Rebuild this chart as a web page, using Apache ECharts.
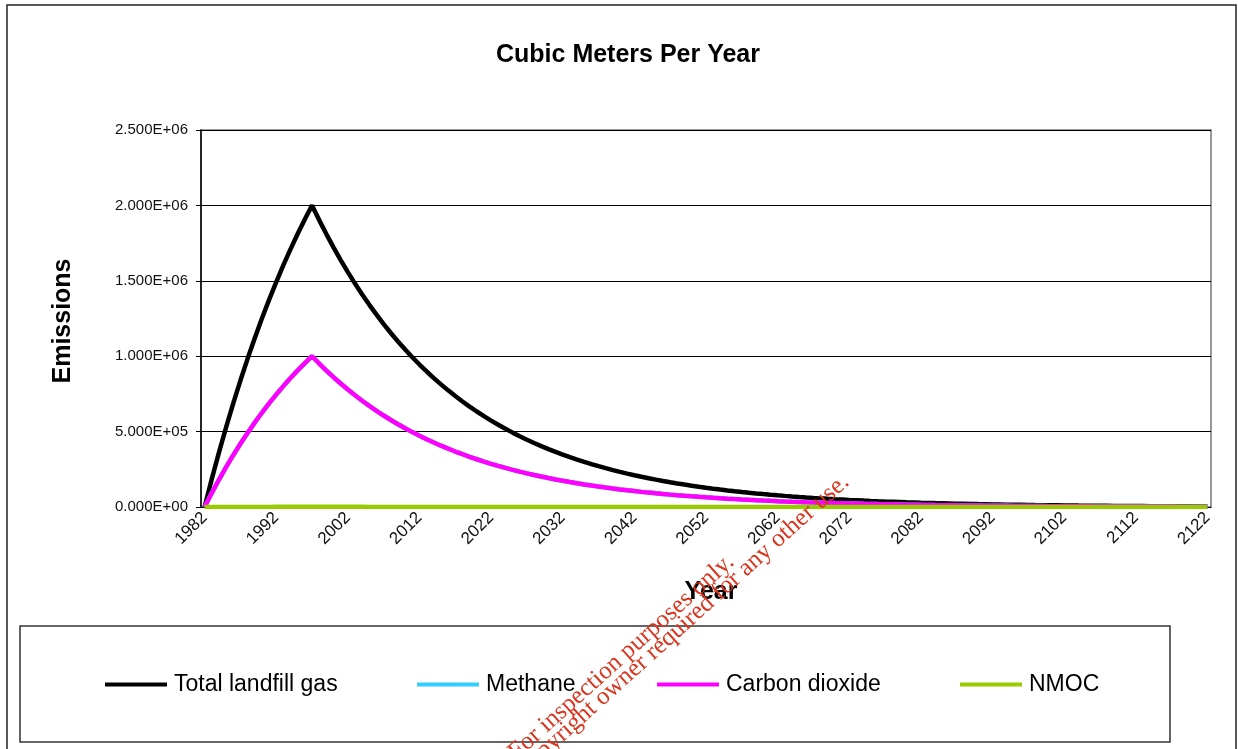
<!DOCTYPE html>
<html>
<head>
<meta charset="utf-8">
<script src="https://cdn.jsdelivr.net/npm/echarts@6/dist/echarts.min.js"></script>
<style>
html,body{margin:0;padding:0;background:#fff;}
#chart{width:1238px;height:749px;}
</style>
</head>
<body>
<div id="chart"></div>
<script>
const years = [
1982,1983,1984,1985,1986,1987,1988,1989,1990,1991,
1992,1993,1994,1995,1996,1997,1998,1999,2000,2001,
2002,2003,2004,2005,2006,2007,2008,2009,2010,2011,
2012,2013,2014,2015,2016,2017,2018,2019,2020,2021,
2022,2023,2024,2025,2026,2027,2028,2029,2030,2031,
2032,2033,2034,2035,2036,2037,2038,2039,2040,2041,
2042,2043,2044,2045,2046,2047,2048,2049,2050,2051,
2052,2053,2054,2055,2056,2057,2058,2059,2060,2061,
2062,2063,2064,2065,2066,2067,2068,2069,2070,2071,
2072,2073,2074,2075,2076,2077,2078,2079,2080,2081,
2082,2083,2084,2085,2086,2087,2088,2089,2090,2091,
2092,2093,2094,2095,2096,2097,2098,2099,2100,2101,
2102,2103,2104,2105,2106,2107,2108,2109,2110,2111,
2112,2113,2114,2115,2116,2117,2118,2119,2120,2121,
2122];

const totalLandfillGas = [
0,184900,360700,528000,687100,838500,982400,1119400,1249600,1373600,
1491500,1603600,1710200,1811700,1908200,2000000,
1902500,1809700,1721400,1637500,1557600,1481600,1409400,1340600,1275300,1213100,
1153900,1097600,1044100,993200,944700,898700,854800,813100,773500,735800,
699900,665700,633300,602400,573000,545100,518500,493200,469100,446300,
424500,403800,384100,365400,347600,330600,314500,299200,284600,270700,
257500,244900,233000,221600,210800,200500,190800,181400,172600,164200,
156200,148600,141300,134400,127900,121600,115700,110100,104700,99600,
94700,90100,85700,81500,77600,73800,70200,66800,63500,60400,
57500,54700,52000,49500,47000,44800,42600,40500,38500,36600,
34900,33200,31500,30000,28500,27200,25800,24600,23400,22200,
21200,20100,19100,18200,17300,16500,15700,14900,14200,13500,
12800,12200,11600,11100,10500,10000,9500,9100,8600,8200,
7800,7400,7100,6700,6400,6100,5800,5500,5200,5000,
4700,4500,4300,4100,3900];

const methane = [
0,92450,180350,264000,343550,419250,491200,559700,624800,686800,
745750,801800,855100,905850,954100,1000000,
951250,904850,860700,818750,778800,740800,704700,670300,637650,606550,
576950,548800,522050,496600,472350,449350,427400,406550,386750,367900,
349950,332850,316650,301200,286500,272550,259250,246600,234550,223150,
212250,201900,192050,182700,173800,165300,157250,149600,142300,135350,
128750,122450,116500,110800,105400,100250,95400,90700,86300,82100,
78100,74300,70650,67200,63950,60800,57850,55050,52350,49800,
47350,45050,42850,40750,38800,36900,35100,33400,31750,30200,
28750,27350,26000,24750,23500,22400,21300,20250,19250,18300,
17450,16600,15750,15000,14250,13600,12900,12300,11700,11100,
10600,10050,9550,9100,8650,8250,7850,7450,7100,6750,
6400,6100,5800,5550,5250,5000,4750,4550,4300,4100,
3900,3700,3550,3350,3200,3050,2900,2750,2600,2500,
2350,2250,2150,2050,1950];

const carbonDioxide = [
0,92450,180350,264000,343550,419250,491200,559700,624800,686800,
745750,801800,855100,905850,954100,1000000,
951250,904850,860700,818750,778800,740800,704700,670300,637650,606550,
576950,548800,522050,496600,472350,449350,427400,406550,386750,367900,
349950,332850,316650,301200,286500,272550,259250,246600,234550,223150,
212250,201900,192050,182700,173800,165300,157250,149600,142300,135350,
128750,122450,116500,110800,105400,100250,95400,90700,86300,82100,
78100,74300,70650,67200,63950,60800,57850,55050,52350,49800,
47350,45050,42850,40750,38800,36900,35100,33400,31750,30200,
28750,27350,26000,24750,23500,22400,21300,20250,19250,18300,
17450,16600,15750,15000,14250,13600,12900,12300,11700,11100,
10600,10050,9550,9100,8650,8250,7850,7450,7100,6750,
6400,6100,5800,5550,5250,5000,4750,4550,4300,4100,
3900,3700,3550,3350,3200,3050,2900,2750,2600,2500,
2350,2250,2150,2050,1950];

const nmoc = [
0,110,220,320,410,500,590,670,750,820,
890,960,1030,1090,1140,1200,
1140,1090,1030,980,930,890,850,800,770,730,
690,660,630,600,570,540,510,490,460,440,
420,400,380,360,340,330,310,300,280,270,
250,240,230,220,210,200,190,180,170,160,
150,150,140,130,130,120,110,110,100,100,
90,90,80,80,80,70,70,70,60,60,
60,50,50,50,50,40,40,40,40,40,
30,30,30,30,30,30,30,20,20,20,
20,20,20,20,20,20,20,10,10,10,
10,10,10,10,10,10,10,10,10,10,
10,10,10,10,10,10,10,10,10,10,
10,10,10,0,0,0,0,0,0,0,
0,0,0,0,0];

const seriesNames = ['Total landfill gas', 'Methane', 'Carbon dioxide', 'NMOC'];
const seriesColors = ['#000000', '#33CCFF', '#FF00FF', '#99CC00'];
const yTicks = { min: 0, max: 2500000, interval: 500000 };

const FONT = '"Liberation Sans", Arial, sans-serif';
const SERIF = '"Liberation Serif", "Times New Roman", serif';

function sci(v) {
  return v.toExponential(3).toUpperCase().replace(/E([+-])(\d)$/, 'E$10$2');
}

const chart = echarts.init(document.getElementById('chart'), null, { renderer: 'canvas' });

const dataSets = [totalLandfillGas, methane, carbonDioxide, nmoc];
const legendLefts = [105, 417, 657, 960];
const wmAngle = 42 * Math.PI / 180;

const option = {
  backgroundColor: '#ffffff',
  animation: false,
  title: {
    text: 'Cubic Meters Per Year',
    left: 623,
    top: 38,
    textAlign: 'center',
    textStyle: { fontFamily: FONT, fontSize: 25, fontWeight: 'bold', color: '#000' }
  },
  legend: seriesNames.map((n, i) => ({
    data: [n],
    left: legendLefts[i],
    top: 673,
    padding: 0,
    icon: 'rect',
    itemWidth: 62,
    itemHeight: 4,
    itemGap: 0,
    textStyle: { fontFamily: FONT, fontSize: 23, color: '#000', padding: [0, 0, 0, 2] }
  })),
  grid: { left: 201, right: 27, top: 130, bottom: 242, show: true, borderColor: '#777', borderWidth: 1.5, backgroundColor: '#fff' },
  xAxis: {
    type: 'category',
    data: years,
    boundaryGap: true,
    axisLine: { lineStyle: { color: '#000', width: 1 } },
    axisTick: { interval: 0, length: 5, lineStyle: { color: '#000' } },
    axisLabel: { interval: 9, rotate: 45, fontFamily: FONT, fontSize: 17, color: '#111', margin: 8 }
  },
  yAxis: {
    type: 'value',
    min: yTicks.min,
    max: yTicks.max,
    interval: yTicks.interval,
    axisLine: { show: true, lineStyle: { color: '#000', width: 1.5 } },
    axisTick: { show: true, length: 5, lineStyle: { color: '#000' } },
    splitLine: { lineStyle: { color: '#000', width: 1 } },
    axisLabel: { formatter: sci, fontFamily: FONT, fontSize: 15, color: '#111', margin: 13 }
  },
  series: seriesNames.map((n, i) => ({
    name: n,
    type: 'line',
    data: dataSets[i],
    showSymbol: false,
    symbol: 'none',
    lineStyle: { color: seriesColors[i], width: 4.5 },
    itemStyle: { color: seriesColors[i] },
    z: 2 + i
  })),
  graphic: [
    { type: 'rect', z: -1, silent: true, shape: { x: 7, y: 5, width: 1229, height: 770 }, style: { fill: 'none', stroke: '#222', lineWidth: 1.5 } },
    { type: 'rect', z: -1, silent: true, shape: { x: 20, y: 626, width: 1150, height: 116 }, style: { fill: '#fff', stroke: '#333', lineWidth: 1.5 } },
    { type: 'text', silent: true, x: 63, y: 321, rotation: Math.PI / 2, style: { text: 'Emissions', font: 'bold 25px ' + FONT, fill: '#000', align: 'center', verticalAlign: 'middle' } },
    { type: 'text', silent: true, x: 711, y: 592, style: { text: 'Year', font: 'bold 25px ' + FONT, fill: '#000', align: 'center', verticalAlign: 'middle' } },
    { type: 'text', silent: true, z: 100, x: 739, y: 568, rotation: wmAngle, style: { text: 'For inspection purposes only.', font: '25px ' + SERIF, fill: '#d8361e', align: 'right', verticalAlign: 'bottom' } },
    { type: 'text', silent: true, z: 100, x: 854, y: 488, rotation: wmAngle, style: { text: 'Consent of copyright owner required for any other use.', font: '25px ' + SERIF, fill: '#d8361e', align: 'right', verticalAlign: 'bottom' } }
  ]
};

chart.setOption(option);
</script>
</body>
</html>
